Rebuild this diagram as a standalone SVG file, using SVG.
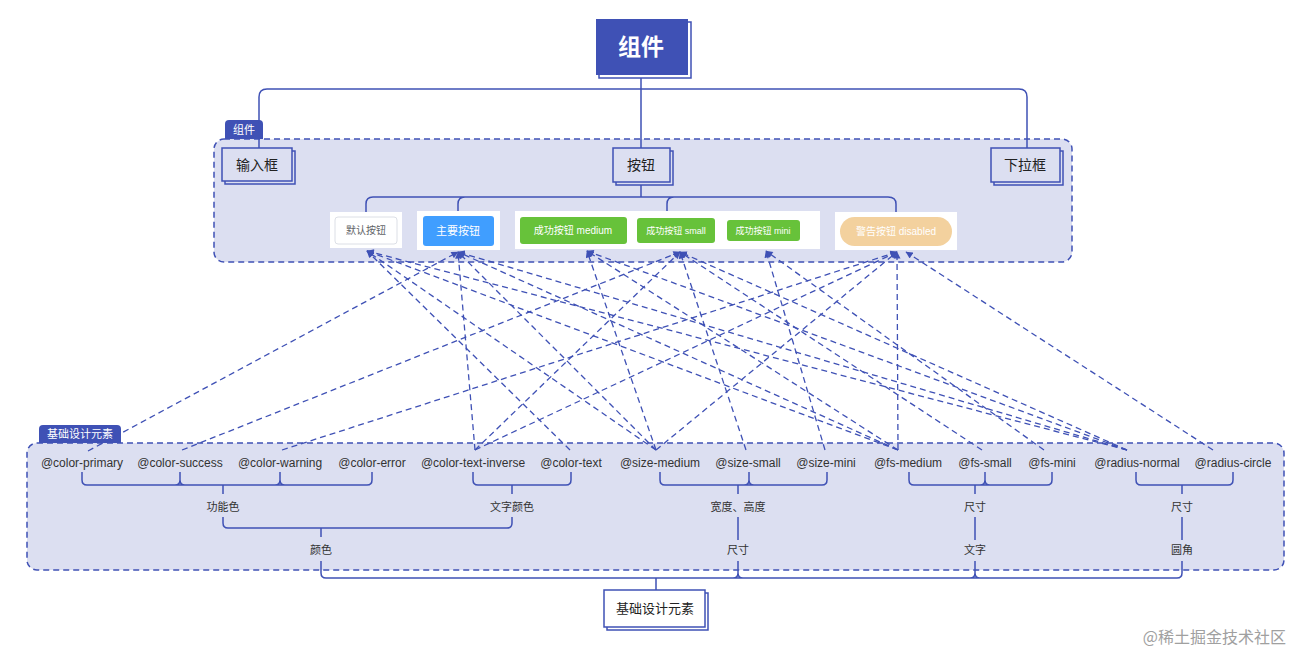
<svg xmlns="http://www.w3.org/2000/svg" width="1304" height="666" viewBox="0 0 1304 666">
<defs>
<marker id="ah" viewBox="0 0 8 8" refX="7.5" refY="4" markerWidth="8" markerHeight="7" markerUnits="userSpaceOnUse" orient="auto"><path d="M0,0 L8,4 L0,8 z" fill="#3f51b5"/></marker>
<style>
.cont{fill:#dcdff1;stroke:#3f51b5;stroke-width:1.5;stroke-dasharray:6 4}
.tag{fill:#3f51b5}
.tagt{font-family:"Noto Sans CJK SC",sans-serif;font-size:11px;fill:#fff;text-anchor:middle}
.node{fill:#dcdff1;stroke:#3f51b5;stroke-width:1.5}
.shadow{fill:#dcdff1;stroke:#3f51b5;stroke-width:1.5}
.nt{font-family:"Noto Sans CJK SC",sans-serif;font-size:14px;fill:#222;text-anchor:middle}
.conn{fill:none;stroke:#3f51b5;stroke-width:1.5}
.dash{fill:none;stroke:#3f51b5;stroke-width:1.3;stroke-dasharray:6 4}
.lbl{font-family:"Liberation Sans",Arial,sans-serif;font-size:12px;fill:#333;text-anchor:middle}
.cl{font-family:"Noto Sans CJK SC",sans-serif;font-size:11px;fill:#333;text-anchor:middle}
.panel{fill:#fff}
.bt{font-family:"Liberation Sans","Noto Sans CJK SC",sans-serif;fill:#fff;text-anchor:middle}
</style>
</defs>
<rect width="1304" height="666" fill="#fff"/>

<!-- containers -->
<g id="group-components">
<rect class="cont" x="214" y="139" width="858" height="123" rx="10"/>
<path class="tag" d="M225 139 V124 Q225 120 229 120 H259 Q263 120 263 124 V139 Z"/>
<text class="tagt" x="244" y="134">组件</text>
</g>
<g id="group-base">
<rect class="cont" x="27" y="443" width="1257" height="127" rx="10"/>
<path class="tag" d="M39 443 V429 Q39 425 43 425 H117 Q121 425 121 429 V443 Z"/>
<text class="tagt" x="80" y="438">基础设计元素</text>
</g>

<!-- solid connectors -->
<g id="tree-connectors">
<path class="conn" d="M641 75 V89 M267 89 H1019 M259 148 V97 Q259 89 267 89 M1019 89 Q1027 89 1027 97 V148 M641 89 V148"/>
<path class="conn" d="M641 183 V197 M373 197 H888 M366 212 V204 Q366 197 373 197 M458 212 V204 Q458 197 465 197 M667 211 V204 Q667 197 674 197 M888 197 Q896 197 896 204 V212"/>
<!-- bottom brackets -->
<path class="conn" d="M82 472 V480 Q82 485 87 485 H367 Q372 485 372 480 V472 M180 472 V480 Q180 485 175 485 M180 480 Q180 485 185 485 M280 472 V480 Q280 485 275 485 M280 480 Q280 485 285 485 M223 485 V494"/>
<path class="conn" d="M473 472 V480 Q473 485 478 485 H566 Q571 485 571 480 V472 M512 485 V494"/>
<path class="conn" d="M660 472 V480 Q660 485 665 485 H822 Q827 485 827 480 V472 M749 472 V480 Q749 485 744 485 M749 480 Q749 485 754 485 M738 485 V494"/>
<path class="conn" d="M909 472 V480 Q909 485 914 485 H1047 Q1052 485 1052 480 V472 M985 472 V480 Q985 485 980 485 M985 480 Q985 485 990 485 M975 485 V494"/>
<path class="conn" d="M1136 472 V480 Q1136 485 1141 485 H1228 Q1233 485 1233 480 V472 M1182 485 V494"/>
<path class="conn" d="M223 517 V523 Q223 528 228 528 H507 Q512 528 512 523 V517 M321 528 V537"/>
<path class="conn" d="M738 517 V540 M975 517 V540 M1182 517 V540"/>
<path class="conn" d="M321 561 V573 Q321 578 326 578 H1177 Q1182 578 1182 573 V561 M738 561 V573 Q738 578 733 578 M738 573 Q738 578 743 578 M975 561 V573 Q975 578 970 578 M975 573 Q975 578 980 578 M656 578 V590"/>
</g>

<!-- top node -->
<g id="node-root">
<rect x="599" y="22" width="92" height="56" fill="#fff" stroke="#3f51b5" stroke-width="1.5"/>
<rect x="596" y="19" width="92" height="56" fill="#3f51b5"/>
<text x="641" y="55" font-family="Noto Sans CJK SC, sans-serif" font-size="23" font-weight="bold" fill="#fff" text-anchor="middle">组件</text>
</g>
<g id="node-input">
<rect class="shadow" x="225" y="151" width="70" height="33"/>
<rect class="node" x="222" y="148" width="70" height="33"/>
<text class="nt" x="257" y="170">输入框</text>
</g>
<g id="node-button">
<rect class="shadow" x="616" y="151" width="57" height="34"/>
<rect class="node" x="613" y="148" width="57" height="34"/>
<text class="nt" x="641" y="170">按钮</text>
</g>
<g id="node-select">
<rect class="shadow" x="994" y="151" width="69" height="34"/>
<rect class="node" x="991" y="148" width="69" height="34"/>
<text class="nt" x="1025" y="170">下拉框</text>
</g>

<!-- button panels -->
<g id="btn-default">
<rect class="panel" x="330" y="212" width="72" height="36"/>
<rect x="335" y="217" width="62" height="27" rx="3" fill="#fff" stroke="#dcdfe6"/>
<text x="366" y="234" font-family="Noto Sans CJK SC, sans-serif" font-size="10" fill="#606266" text-anchor="middle">默认按钮</text>
</g>
<g id="btn-primary">
<rect class="panel" x="417" y="211" width="83" height="39"/>
<rect x="423" y="216" width="71" height="30" rx="3" fill="#409eff"/>
<text class="bt" x="458" y="235" font-size="11">主要按钮</text>
</g>
<g id="btn-success">
<rect class="panel" x="515" y="211" width="305" height="38"/>
<rect x="520" y="217" width="107" height="27" rx="3" fill="#67c23a"/>
<text class="bt" x="573" y="234" font-size="10">成功按钮 medium</text>
<rect x="637" y="218" width="78" height="25" rx="3" fill="#67c23a"/>
<text class="bt" x="676" y="234" font-size="9">成功按钮 small</text>
<rect x="727" y="220" width="73" height="21" rx="3" fill="#67c23a"/>
<text class="bt" x="763" y="234" font-size="9">成功按钮 mini</text>
</g>
<g id="btn-warning">
<rect class="panel" x="835" y="212" width="122" height="38"/>
<rect x="840" y="217" width="112" height="29" rx="14.5" fill="#f3d19e"/>
<text class="bt" x="896" y="235" font-size="10">警告按钮 disabled</text>
</g>

<!-- element labels -->
<g id="elements">
<text class="lbl" x="82" y="467">@color-primary</text>
<text class="lbl" x="180" y="467">@color-success</text>
<text class="lbl" x="280" y="467">@color-warning</text>
<text class="lbl" x="372" y="467">@color-error</text>
<text class="lbl" x="473" y="467">@color-text-inverse</text>
<text class="lbl" x="571" y="467">@color-text</text>
<text class="lbl" x="660" y="467">@size-medium</text>
<text class="lbl" x="748" y="467">@size-small</text>
<text class="lbl" x="826" y="467">@size-mini</text>
<text class="lbl" x="908" y="467">@fs-medium</text>
<text class="lbl" x="985" y="467">@fs-small</text>
<text class="lbl" x="1052" y="467">@fs-mini</text>
<text class="lbl" x="1137" y="467">@radius-normal</text>
<text class="lbl" x="1233" y="467">@radius-circle</text>
</g>
<g id="categories">
<text class="cl" x="223" y="511">功能色</text>
<text class="cl" x="512" y="511">文字颜色</text>
<text class="cl" x="738" y="511">宽度、高度</text>
<text class="cl" x="975" y="511">尺寸</text>
<text class="cl" x="1182" y="511">尺寸</text>
<text class="cl" x="321" y="554">颜色</text>
<text class="cl" x="738" y="554">尺寸</text>
<text class="cl" x="975" y="554">文字</text>
<text class="cl" x="1182" y="554">圆角</text>
</g>

<g id="node-base">
<rect x="607" y="593" width="101" height="37" fill="#fff" stroke="#3f51b5" stroke-width="1.5"/>
<rect x="604" y="590" width="101" height="37" fill="#fff" stroke="#3f51b5" stroke-width="1.5"/>
<text x="655" y="613" font-family="Noto Sans CJK SC, sans-serif" font-size="13" fill="#222" text-anchor="middle">基础设计元素</text>
</g>

<!-- dashed dependency connectors -->
<g id="dependencies" class="dash" marker-end="url(#ah)">
<line x1="88" y1="451" x2="458" y2="252" marker-end="url(#ah)"/>
<line x1="182" y1="450" x2="680" y2="252" marker-end="url(#ah)"/>
<line x1="282" y1="450" x2="897" y2="252" marker-end="url(#ah)"/>
<line x1="475" y1="450" x2="458" y2="252" marker-end="url(#ah)"/>
<line x1="475" y1="450" x2="680" y2="252" marker-end="url(#ah)"/>
<line x1="475" y1="450" x2="897" y2="252" marker-end="url(#ah)"/>
<line x1="570" y1="450" x2="367" y2="251" marker-end="url(#ah)"/>
<line x1="656" y1="450" x2="367" y2="251" marker-end="url(#ah)"/>
<line x1="656" y1="450" x2="458" y2="252" marker-end="url(#ah)"/>
<line x1="656" y1="450" x2="587" y2="251" marker-end="url(#ah)"/>
<line x1="656" y1="450" x2="897" y2="252" marker-end="url(#ah)"/>
<line x1="746" y1="450" x2="680" y2="252" marker-end="url(#ah)"/>
<line x1="825" y1="450" x2="766" y2="251" marker-end="url(#ah)"/>
<line x1="898" y1="450" x2="367" y2="251" marker-end="url(#ah)"/>
<line x1="898" y1="450" x2="458" y2="252" marker-end="url(#ah)"/>
<line x1="898" y1="450" x2="587" y2="251" marker-end="url(#ah)"/>
<line x1="898" y1="450" x2="897" y2="252" marker-end="url(#ah)"/>
<line x1="982" y1="450" x2="680" y2="252" marker-end="url(#ah)"/>
<line x1="1044" y1="450" x2="766" y2="251" marker-end="url(#ah)"/>
<line x1="1127" y1="450" x2="367" y2="251" marker-end="url(#ah)"/>
<line x1="1127" y1="450" x2="458" y2="252" marker-end="url(#ah)"/>
<line x1="1127" y1="450" x2="587" y2="251" marker-end="url(#ah)"/>
<line x1="1127" y1="450" x2="680" y2="252" marker-end="url(#ah)"/>
<line x1="1213" y1="450" x2="906" y2="252" marker-end="url(#ah)"/>
</g>

<text x="1286" y="643" font-family="Noto Sans CJK SC, sans-serif" font-size="16" fill="#a0a0a0" text-anchor="end">@稀土掘金技术社区</text>
</svg>
